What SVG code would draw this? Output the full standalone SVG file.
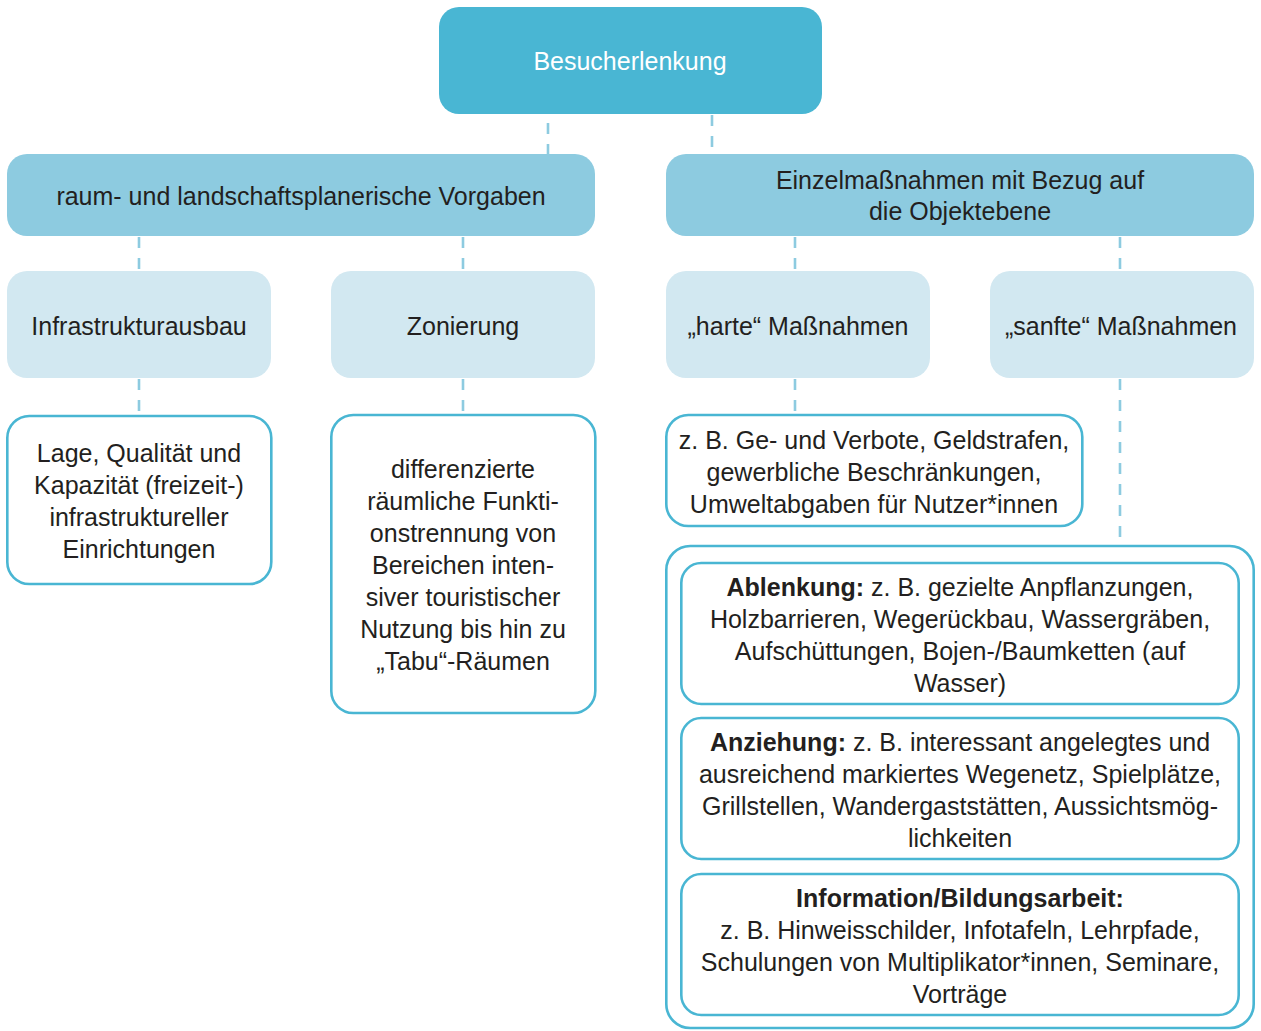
<svg xmlns="http://www.w3.org/2000/svg" width="1261" height="1031" viewBox="0 0 1261 1031">
  <style>
    text { font-family: "Liberation Sans", "Noto Sans", sans-serif; font-size: 25px; fill: #231f20; text-anchor: middle; }
    .b { font-weight: bold; }
    .root { fill: #49b6d3; }
    .l1 { fill: #8dcbe0; }
    .l2 { fill: #d2e8f1; }
    .box { fill: #ffffff; stroke: #49b6d3; stroke-width: 2.6; }
    .conn line { stroke: #8dcbe0; stroke-width: 2.6; stroke-dasharray: 11 10; }
  </style>

  <!-- dashed connectors -->
  <g id="connectors" class="conn">
    <line x1="548" y1="123" x2="548" y2="154"/>
    <line x1="712" y1="115" x2="712" y2="154"/>
    <line x1="139" y1="237" x2="139" y2="271"/>
    <line x1="463" y1="237" x2="463" y2="271"/>
    <line x1="795" y1="237" x2="795" y2="271"/>
    <line x1="1120" y1="237" x2="1120" y2="271"/>
    <line x1="139" y1="379" x2="139" y2="415"/>
    <line x1="463" y1="379" x2="463" y2="414"/>
    <line x1="795" y1="379" x2="795" y2="414"/>
    <line x1="1120" y1="379" x2="1120" y2="545"/>
  </g>

  <g id="besucherlenkung">
    <rect class="root" x="439" y="7" width="383" height="107" rx="20"/>
    <text x="630" y="70" style="fill:#ffffff">Besucherlenkung</text>
  </g>

  <g id="vorgaben">
    <rect class="l1" x="7" y="154" width="588" height="82" rx="20"/>
    <text x="301" y="205">raum- und landschaftsplanerische Vorgaben</text>
  </g>

  <g id="einzelmassnahmen">
    <rect class="l1" x="666" y="154" width="588" height="82" rx="20"/>
    <text x="960" y="189">Einzelmaßnahmen mit Bezug auf</text>
    <text x="960" y="220">die Objektebene</text>
  </g>

  <g id="infrastrukturausbau">
    <rect class="l2" x="7" y="271" width="264" height="107" rx="20"/>
    <text x="139" y="335">Infrastrukturausbau</text>
  </g>

  <g id="zonierung">
    <rect class="l2" x="331" y="271" width="264" height="107" rx="20"/>
    <text x="463" y="335">Zonierung</text>
  </g>

  <g id="harte">
    <rect class="l2" x="666" y="271" width="264" height="107" rx="20"/>
    <text x="798" y="335">„harte“ Maßnahmen</text>
  </g>

  <g id="sanfte">
    <rect class="l2" x="990" y="271" width="264" height="107" rx="20"/>
    <text x="1121" y="335">„sanfte“ Maßnahmen</text>
  </g>

  <g id="infrastruktur-detail">
    <rect class="box" x="7.3" y="416" width="264" height="168" rx="22"/>
    <text x="139" y="462">Lage, Qualität und</text>
    <text x="139" y="494">Kapazität (freizeit-)</text>
    <text x="139" y="526">infrastruktureller</text>
    <text x="139" y="558">Einrichtungen</text>
  </g>

  <g id="zonierung-detail">
    <rect class="box" x="331.3" y="415" width="264" height="298" rx="22"/>
    <text x="463" y="478">differenzierte</text>
    <text x="463" y="510">räumliche Funkti-</text>
    <text x="463" y="542">onstrennung von</text>
    <text x="463" y="574">Bereichen inten-</text>
    <text x="463" y="606">siver touristischer</text>
    <text x="463" y="638">Nutzung bis hin zu</text>
    <text x="463" y="670">„Tabu“-Räumen</text>
  </g>

  <g id="harte-detail">
    <rect class="box" x="666.3" y="415" width="416" height="111" rx="22"/>
    <text x="874" y="449">z. B. Ge- und Verbote, Geldstrafen,</text>
    <text x="874" y="481">gewerbliche Beschränkungen,</text>
    <text x="874" y="513">Umweltabgaben für Nutzer*innen</text>
  </g>

  <g id="sanfte-detail">
    <rect class="box" x="666.3" y="546" width="587.4" height="482" rx="24"/>

    <g id="ablenkung">
      <rect class="box" x="681.3" y="563" width="557.4" height="141" rx="20"/>
      <text x="960" y="596"><tspan class="b">Ablenkung:</tspan> z. B. gezielte Anpflanzungen,</text>
      <text x="960" y="628">Holzbarrieren, Wegerückbau, Wassergräben,</text>
      <text x="960" y="660">Aufschüttungen, Bojen-/Baumketten (auf</text>
      <text x="960" y="692">Wasser)</text>
    </g>

    <g id="anziehung">
      <rect class="box" x="681.3" y="718" width="557.4" height="141" rx="20"/>
      <text x="960" y="751"><tspan class="b">Anziehung:</tspan> z. B. interessant angelegtes und</text>
      <text x="960" y="783">ausreichend markiertes Wegenetz, Spielplätze,</text>
      <text x="960" y="815">Grillstellen, Wandergaststätten, Aussichtsmög-</text>
      <text x="960" y="847">lichkeiten</text>
    </g>

    <g id="information">
      <rect class="box" x="681.3" y="874" width="557.4" height="141" rx="20"/>
      <text x="960" y="907" class="b">Information/Bildungsarbeit:</text>
      <text x="960" y="939">z. B. Hinweisschilder, Infotafeln, Lehrpfade,</text>
      <text x="960" y="971">Schulungen von Multiplikator*innen, Seminare,</text>
      <text x="960" y="1003">Vorträge</text>
    </g>
  </g>
</svg>
